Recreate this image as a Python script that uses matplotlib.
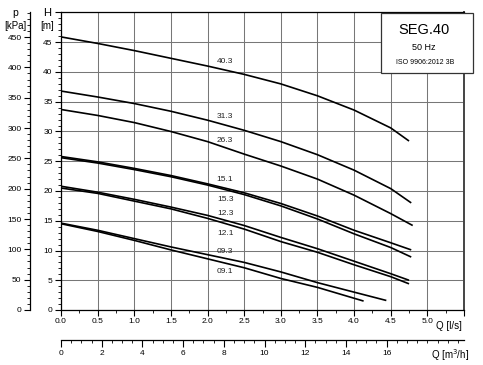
import matplotlib
matplotlib.use('Agg')
import matplotlib.pyplot as plt
from matplotlib.ticker import MultipleLocator
from matplotlib.patches import Rectangle

plt.rcParams['font.family'] = ['Liberation Sans', 'DejaVu Sans']

# pump curves, Q in l/s, H in m
q_full = [0, 0.5, 1.0, 1.5, 2.0, 2.5, 3.0, 3.5, 4.0, 4.5]
h_403 = [45.9, 44.8, 43.6, 42.3, 41.0, 39.6, 38.0, 36.0, 33.6, 30.6, 28.4]
h_313 = [36.8, 35.8, 34.7, 33.4, 31.9, 30.2, 28.3, 26.1, 23.5, 20.4, 18.0]
h_263 = [33.7, 32.7, 31.5, 30.0, 28.3, 26.2, 24.2, 22.0, 19.3, 16.2, 14.2]
h_151 = [25.8, 24.9, 23.8, 22.6, 21.2, 19.7, 17.9, 15.8, 13.4, 11.3, 10.1]
h_153 = [25.6, 24.7, 23.6, 22.4, 21.0, 19.4, 17.5, 15.3, 12.8, 10.5, 8.9]
h_123 = [20.8, 19.8, 18.6, 17.3, 15.9, 14.2, 12.2, 10.3, 8.2, 6.1, 5.0]
h_121 = [20.5, 19.6, 18.3, 17.0, 15.4, 13.6, 11.5, 9.7, 7.6, 5.6, 4.4]
h_093 = [14.6, 13.4, 12.0, 10.6, 9.3, 8.0, 6.4, 4.6, 3.0, 1.6]
h_091 = [14.5, 13.2, 11.7, 10.1, 8.6, 7.1, 5.3, 3.8, 1.5]
q_end = {'40.3': 4.75, '31.3': 4.78, '26.3': 4.8, '15.1': 4.78, '15.3': 4.78,
         '12.3': 4.75, '12.1': 4.75, '09.3': 4.44, '09.1': 4.13}

curves = [('40.3', h_403), ('31.3', h_313), ('26.3', h_263), ('15.1', h_151),
          ('15.3', h_153), ('12.3', h_123), ('12.1', h_121), ('09.3', h_093),
          ('09.1', h_091)]
label_q = 2.24
label_h = [41.7, 32.5, 28.5, 21.9, 18.6, 16.2, 12.8, 9.8, 6.4]

fig = plt.figure(figsize=(4.83, 3.65), dpi=100)
ax = fig.add_axes([61/483, 1-310/365, 403/483, 297.5/365])
ax.set_xlim(0, 5.5)
ax.set_ylim(0, 50)

for (name, h), lh in zip(curves, label_h):
    q = q_full[:len(h)-1] + [q_end[name]]
    ax.plot(q, h, color='black', lw=1.2, solid_capstyle='butt')
    ax.text(label_q, lh, name, fontsize=6, ha='center', va='center', color='#222222')

grid_c = '#777777'
ax.set_xticks([0, 0.5, 1.0, 1.5, 2.0, 2.5, 3.0, 3.5, 4.0, 4.5, 5.0, 5.5])
ax.set_xticklabels(['0.0', '0.5', '1.0', '1.5', '2.0', '2.5', '3.0', '3.5', '4.0', '4.5', '5.0', ''])
ax.xaxis.set_minor_locator(MultipleLocator(0.25))
ax.set_yticks(range(0, 51, 5))
ax.set_yticklabels([str(v) for v in range(0, 50, 5)] + [''])
ax.yaxis.set_minor_locator(MultipleLocator(1))
ax.grid(True, which='major', color=grid_c, lw=0.75)
ax.tick_params(which='major', length=4, width=0.8, labelsize=6, pad=2)
ax.tick_params(which='minor', length=2, width=0.6)
for s in ax.spines.values():
    s.set_linewidth(0.9)
ax.spines['right'].set_linewidth(1.4)
ax.spines['right'].set_color('#444444')

# pressure axis
pax = ax.secondary_yaxis(-0.077, functions=(lambda h: h*9.81, lambda p: p/9.81))
pax.set_yticks(range(0, 451, 50))
pax.yaxis.set_minor_locator(MultipleLocator(10))
pax.tick_params(which='major', length=4, width=0.8, labelsize=6, pad=2)
pax.tick_params(which='minor', length=2, width=0.6)
pax.spines['left'].set_linewidth(0.9)

# flow in m3/h
qax = ax.secondary_xaxis(-0.101, functions=(lambda q: q*3.6, lambda m: m/3.6))
qax.set_xticks(range(0, 17, 2))
qax.xaxis.set_minor_locator(MultipleLocator(0.5))
qax.tick_params(which='major', length=5, width=0.8, labelsize=6, pad=2)
qax.tick_params(which='minor', length=2.5, width=0.6)
qax.spines['bottom'].set_linewidth(0.9)

fig.text(47/483, 1-13/365, 'H', fontsize=8, ha='center', va='center')
fig.text(47/483, 1-26/365, '[m]', fontsize=7, ha='center', va='center')
fig.text(15/483, 1-13/365, 'p', fontsize=7.5, ha='center', va='center')
fig.text(15/483, 1-26/365, '[kPa]', fontsize=7, ha='center', va='center')
fig.text(449/483, 1-326/365, 'Q [l/s]', fontsize=7, ha='center', va='center')
fig.text(450/483, 1-355/365, 'Q [m$^3$/h]', fontsize=7, ha='center', va='center')

# title box
fig.add_artist(Rectangle((381/483, 1-73/365), 92/483, 60/365, transform=fig.transFigure,
                         facecolor='white', edgecolor='#333333', lw=0.9, zorder=5))
fig.text(424/483, 1-30/365, 'SEG.40', fontsize=10.5, ha='center', va='center', zorder=6)
fig.text(424/483, 1-48/365, '50 Hz', fontsize=6.5, ha='center', va='center', zorder=6)
fig.text(425/483, 1-62/365, 'ISO 9906:2012 3B', fontsize=5, ha='center', va='center', zorder=6)

fig.savefig('out.png', dpi=100)
